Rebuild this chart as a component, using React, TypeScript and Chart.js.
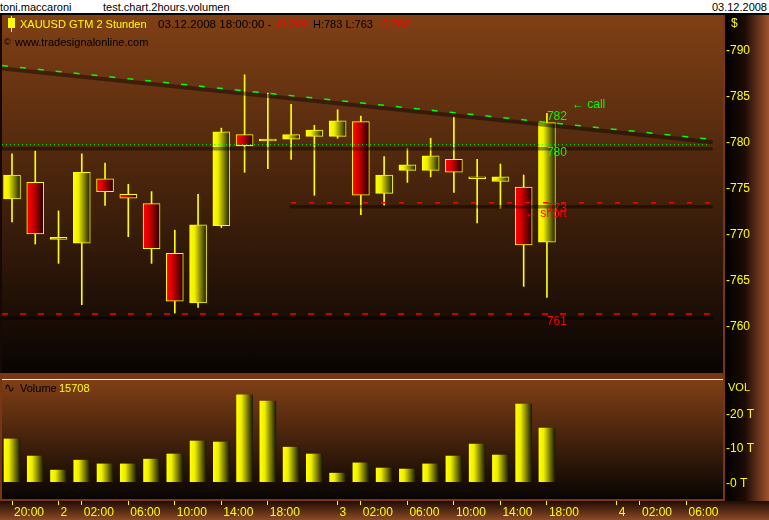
import React, { useEffect, useRef } from "react";
import { Chart, registerables } from "chart.js";

Chart.register(...registerables);

// ---------- data ----------
const opens = [773.7, 775.5, 769.3, 768.9, 775.9, 774.2, 773.2, 767.8, 762.4, 770.8, 780.7, 780.0, 780.2, 780.5, 780.5, 782.1, 774.3, 776.8, 776.8, 778.0, 776.1, 775.6, 775.0, 769];
const closes = [776.3, 769.9, 769.3, 776.6, 774.5, 773.8, 768.3, 762.6, 770.9, 781.0, 779.5, 780.0, 780.7, 781.2, 782.2, 774.1, 776.3, 777.4, 778.4, 776.6, 775.9, 776.1, 768.7, 782];
const highs = [778.6, 778.9, 772.4, 778.6, 777.6, 775.3, 774.5, 770.3, 774.2, 781.4, 787.2, 785.2, 784.0, 781.7, 783.4, 782.7, 778.3, 779.2, 780.3, 782.6, 778.0, 777.5, 776.3, 783];
const lows = [771.2, 768.8, 766.7, 762.2, 773.0, 769.6, 766.7, 761.3, 761.9, 770.6, 776.6, 777.0, 778.0, 774.1, 780.3, 772.0, 773.0, 775.5, 776.1, 774.4, 771.1, 772.7, 764.2, 763];
const volumes = [12500, 7500, 3400, 6300, 5200, 5200, 6600, 8100, 11900, 11600, 25400, 23600, 10100, 8100, 2500, 5500, 4000, 3700, 5200, 7500, 11000, 7800, 22700, 15708];

const timeTickIndex = [0, 2, 3, 5, 7, 9, 11, 14, 15, 17, 19, 21, 23, 26, 27, 29];
const timeTickLabels = ["20:00", "2", "02:00", "06:00", "10:00", "14:00", "18:00", "3", "02:00", "06:00", "10:00", "14:00", "18:00", "4", "02:00", "06:00"];
const priceTicks = [760, 765, 770, 775, 780, 785, 790];
const volumeTicks = [0, 10000, 20000];

const xRange = [-0.43, 30.57];
const priceRange = [754.78, 793.7];
const volumeRange = [-5058, 30029];

const callTrendIdx = [-0.43, 30];
const callTrendPrice = [788.2, 780.2];
const levelPrices = [779.6, 773.3, 761.2];
const levelFrom = [-0.43, 12, -0.43];
const levelTo = [30, 30, 30];

const noteLabels = ["782", "\u2190 call", "780", "773", "\u2190 short", "761"];
const noteIdx = [23, 23, 23, 23, 23, 23];
const noteValues = [782, 782, 779.6, 773.3, 773.3, 761.2];

// ---------- styles ----------
const SANS = "'Liberation Sans', Arial, sans-serif";
const YELLOW = "#ffff00";
const NOTE_STYLE = [
  { color: "#00ff00", dx: 0, dy: -6 },
  { color: "#00ff00", dx: 25, dy: -18 },
  { color: "#00ff00", dx: 0, dy: 8 },
  { color: "#ff0000", dx: 0, dy: 6 },
  { color: "#ff0000", dx: -22, dy: 11 },
  { color: "#ff0000", dx: 0, dy: 7.5 },
];
const LEVEL_STYLE = [
  { color: "#00ff00", dash: [1, 3], width: 1 },
  { color: "#ff0000", dash: [5, 13], width: 1.5 },
  { color: "#ff0000", dash: [6, 12], width: 1.5 },
];

function barGradient(chart: any, i: number, up: boolean, half: number) {
  const cx = chart.scales.x.getPixelForValue(i);
  const g = chart.ctx.createLinearGradient(cx - half, 0, cx + half, 0);
  if (up) {
    g.addColorStop(0, "#ffff00");
    g.addColorStop(0.3, "#eeee00");
    g.addColorStop(1, "#1a1a00");
  } else {
    g.addColorStop(0, "#ff0000");
    g.addColorStop(0.3, "#e00000");
    g.addColorStop(1, "#200000");
  }
  return g;
}

const BODY_INDEX = 4;

const noPad = (s: any) => {
  s.paddingTop = 0;
  s.paddingBottom = 0;
  s.paddingLeft = 0;
  s.paddingRight = 0;
};

const shadowPlugin = {
  id: "levelShadows",
  afterDatasetDraw(chart: any, args: any) {
    if (args.index !== BODY_INDEX) return;
    const { ctx, chartArea, scales } = chart;
    const x = scales.x;
    const y = scales.y;
    ctx.save();
    ctx.beginPath();
    ctx.rect(chartArea.left, chartArea.top, chartArea.right - chartArea.left, chartArea.bottom - chartArea.top);
    ctx.clip();
    ctx.strokeStyle = "rgba(0,0,0,0.42)";
    const seg = (x0: number, y0: number, x1: number, y1: number, off: number, w: number) => {
      ctx.lineWidth = w;
      ctx.beginPath();
      ctx.moveTo(x.getPixelForValue(x0), y.getPixelForValue(y0) + off);
      ctx.lineTo(x.getPixelForValue(x1) + 3, y.getPixelForValue(y1) + off);
      ctx.stroke();
    };
    seg(callTrendIdx[0], callTrendPrice[0], callTrendIdx[1], callTrendPrice[1], 3, 4);
    levelPrices.forEach((p, k) => seg(levelFrom[k] - 0.05, p, levelTo[k], p, 4, 3.5));
    ctx.restore();
  },
};

const notePlugin = {
  id: "priceNotes",
  afterDatasetsDraw(chart: any) {
    const { ctx, scales } = chart;
    ctx.save();
    ctx.font = `12px ${SANS}`;
    ctx.textAlign = "left";
    ctx.textBaseline = "middle";
    noteLabels.forEach((t, k) => {
      const st = NOTE_STYLE[k];
      ctx.fillStyle = st.color;
      ctx.fillText(t, scales.x.getPixelForValue(noteIdx[k]) + st.dx, scales.y.getPixelForValue(noteValues[k]) + st.dy);
    });
    ctx.restore();
  },
};

function Txt(props: { x: number; y: number; color?: string; size?: number; italic?: boolean; right?: number; children: any }) {
  const { x, y, color = "#000", size = 11, italic, right, children } = props;
  const style: any = {
    position: "absolute",
    top: y - 7,
    lineHeight: "14px",
    fontSize: size,
    color,
    whiteSpace: "nowrap",
    fontStyle: italic ? "italic" : "normal",
    fontFamily: SANS,
    zIndex: 5,
  };
  if (right !== undefined) style.right = right;
  else style.left = x;
  return <div style={style}>{children}</div>;
}

export default function App() {
  const priceRef = useRef<HTMLCanvasElement>(null);
  const volRef = useRef<HTMLCanvasElement>(null);

  useEffect(() => {
    const bodyColor = (c: any) => {
      if (c.type !== "data" || !c.chart.chartArea) return YELLOW;
      const i = c.dataIndex;
      return barGradient(c.chart, i, closes[i] >= opens[i], 8.5);
    };
    const volColor = (c: any) => {
      if (c.type !== "data" || !c.chart.chartArea) return YELLOW;
      return barGradient(c.chart, c.dataIndex, true, 8);
    };

    const priceChart = new Chart(priceRef.current as HTMLCanvasElement, {
      type: "bar",
      data: {
        datasets: [
          {
            type: "line",
            data: callTrendIdx.map((v, k) => ({ x: v, y: callTrendPrice[k] })),
            borderColor: "#00ff00",
            borderWidth: 1.5,
            borderDash: [6, 12],
            pointRadius: 0,
            pointHoverRadius: 0,
            order: 0,
          } as any,
          ...levelPrices.map((p, k) => ({
            type: "line",
            data: [
              { x: levelFrom[k], y: p },
              { x: levelTo[k], y: p },
            ],
            borderColor: LEVEL_STYLE[k].color,
            borderWidth: LEVEL_STYLE[k].width,
            borderDash: LEVEL_STYLE[k].dash,
            pointRadius: 0,
            pointHoverRadius: 0,
            order: 0,
          })),
          {
            type: "bar",
            data: opens.map((o, i) => ({ x: i, y: [o, closes[i]] })),
            backgroundColor: bodyColor,
            borderColor: YELLOW,
            borderWidth: 1,
            borderSkipped: false,
            barThickness: 17,
            minBarLength: 2,
            grouped: false,
            order: 1,
          } as any,
          {
            type: "bar",
            data: lows.map((l, i) => ({ x: i, y: [l, highs[i]] })),
            backgroundColor: YELLOW,
            borderWidth: 0,
            barThickness: 1,
            grouped: false,
            order: 2,
          } as any,
        ],
      },
      options: {
        animation: false,
        responsive: true,
        maintainAspectRatio: false,
        events: [],
        layout: { autoPadding: false, padding: { left: 2, right: 0, top: 0, bottom: 0 } },
        plugins: { legend: { display: false }, tooltip: { enabled: false } },
        scales: {
          x: {
            type: "linear",
            min: xRange[0],
            max: xRange[1],
            offset: false,
            display: false,
          },
          y: {
            type: "linear",
            position: "right",
            min: priceRange[0],
            max: priceRange[1],
            afterBuildTicks: (s: any) => {
              s.ticks = priceTicks.map((v) => ({ value: v }));
            },
            afterFit: (s: any) => {
              s.width = 46;
              noPad(s);
            },
            grid: { display: false, drawTicks: false },
            border: { display: false },
            ticks: {
              color: YELLOW,
              font: { family: SANS, size: 12 },
              padding: 3,
              labelOffset: 2,
              callback: (v: any) => "-" + v,
            },
          },
        },
      } as any,
      plugins: [shadowPlugin, notePlugin],
    });

    const volChart = new Chart(volRef.current as HTMLCanvasElement, {
      type: "bar",
      data: {
        datasets: [
          {
            data: volumes.map((v, i) => ({ x: i, y: v })),
            backgroundColor: volColor,
            borderWidth: 0,
            barThickness: 16,
          } as any,
        ],
      },
      options: {
        animation: false,
        responsive: true,
        maintainAspectRatio: false,
        events: [],
        layout: { autoPadding: false, padding: { left: 2, right: 0, top: 0, bottom: 0 } },
        plugins: { legend: { display: false }, tooltip: { enabled: false } },
        scales: {
          x: {
            type: "linear",
            min: xRange[0],
            max: xRange[1],
            offset: false,
            position: "bottom",
            afterBuildTicks: (s: any) => {
              s.ticks = timeTickIndex.map((v) => ({ value: v }));
            },
            afterFit: (s: any) => {
              s.height = 21;
              noPad(s);
            },
            grid: {
              display: true,
              drawOnChartArea: false,
              drawTicks: true,
              tickLength: 6,
              tickColor: YELLOW,
              color: YELLOW,
              offset: false,
            },
            border: { display: false },
            ticks: {
              color: YELLOW,
              font: { family: SANS, size: 12 },
              align: "start",
              labelOffset: 2,
              padding: 0,
              autoSkip: false,
              maxRotation: 0,
              minRotation: 0,
              callback: (v: any) => timeTickLabels[timeTickIndex.indexOf(v)],
            },
          },
          y: {
            type: "linear",
            position: "right",
            min: volumeRange[0],
            max: volumeRange[1],
            afterBuildTicks: (s: any) => {
              s.ticks = volumeTicks.map((v) => ({ value: v }));
            },
            afterFit: (s: any) => {
              s.width = 46;
              noPad(s);
            },
            grid: { display: false, drawTicks: false },
            border: { display: false },
            ticks: {
              color: YELLOW,
              font: { family: SANS, size: 12 },
              padding: 3,
              labelOffset: 1.5,
              callback: (v: any) => "-" + v / 1000 + " T",
            },
          },
        },
      } as any,
    });

    return () => {
      priceChart.destroy();
      volChart.destroy();
    };
  }, []);

  const last = opens.length - 1;
  const abs = (s: any) => ({ position: "absolute", ...s });

  return (
    <div style={{ position: "fixed", left: 0, top: 0, width: 769, height: 520, overflow: "hidden", background: "#ffffff", fontFamily: SANS }}>
      {/* title bar */}
      <Txt x={0} y={7}>toni.maccaroni</Txt>
      <Txt x={103} y={7}>test.chart.2hours.volumen</Txt>
      <Txt x={0} y={7} right={2}>03.12.2008</Txt>
      <div style={abs({ left: 0, top: 13, width: 769, height: 2, background: "#000" })} />
      {/* frame */}
      <div style={abs({ left: 0, top: 15, width: 769, height: 505, background: "#7a3416" })} />
      {/* main panel */}
      <div style={abs({ left: 0, top: 15, width: 2, height: 358, background: "#160806" })} />
      <div style={abs({ left: 2, top: 15, width: 721, height: 358, background: "linear-gradient(to bottom, #804015 0%, #080402 100%)" })} />
      {/* right axis band */}
      <div style={abs({ left: 725, top: 15, width: 44, height: 486, background: "linear-gradient(to right, #000000 0%, #1c0b04 45%, #a0522d 100%)" })} />
      {/* volume panel */}
      <div style={abs({ left: 2, top: 379, width: 721, height: 1, background: "#ffffff" })} />
      <div style={abs({ left: 2, top: 380, width: 721, height: 119, background: "linear-gradient(to bottom, #804015 0%, #080402 100%)" })} />
      {/* x band */}
      <div style={abs({ left: 0, top: 501, width: 769, height: 19, background: "linear-gradient(to bottom, #200c04 0%, #8c4a24 100%)" })} />

      <div style={abs({ left: 0, top: 15, width: 769, height: 358, zIndex: 2 })}>
        <canvas ref={priceRef} />
      </div>
      <div style={abs({ left: 0, top: 379, width: 769, height: 141, zIndex: 2 })}>
        <canvas ref={volRef} />
      </div>
      <div style={abs({ left: 0, top: 499, width: 725, height: 2, background: "#7a3416", zIndex: 3 })} />

      {/* main header */}
      <div style={abs({ left: 11, top: 16, width: 1, height: 16, background: YELLOW, zIndex: 5 })} />
      <div style={abs({ left: 8, top: 18, width: 7, height: 10, background: YELLOW, zIndex: 5 })} />
      <Txt x={20} y={24} color={YELLOW}>XAUUSD GTM 2 Stunden</Txt>
      <Txt x={158} y={24} size={11.6}>03.12.2008 18:00:00 -</Txt>
      <Txt x={277} y={24} color="#ff0000" italic>{"O:" + Math.round(opens[last])}</Txt>
      <Txt x={313} y={24}>{"H:" + Math.round(highs[last]) + " L:" + Math.round(lows[last])}</Txt>
      <Txt x={380} y={24} color="#ff0000" italic>{"C:" + Math.round(closes[last])}</Txt>
      <Txt x={4} y={42} size={9}>{"\u00a9"}</Txt>
      <Txt x={15} y={42}>www.tradesignalonline.com</Txt>
      <Txt x={731} y={23} color={YELLOW} size={12}>$</Txt>

      {/* volume header */}
      <Txt x={4} y={388} size={13}>{"\u223f"}</Txt>
      <Txt x={20} y={388}>Volume</Txt>
      <Txt x={59} y={388} color={YELLOW}>{String(volumes[last])}</Txt>
      <Txt x={728} y={387} color={YELLOW}>VOL</Txt>
    </div>
  );
}
